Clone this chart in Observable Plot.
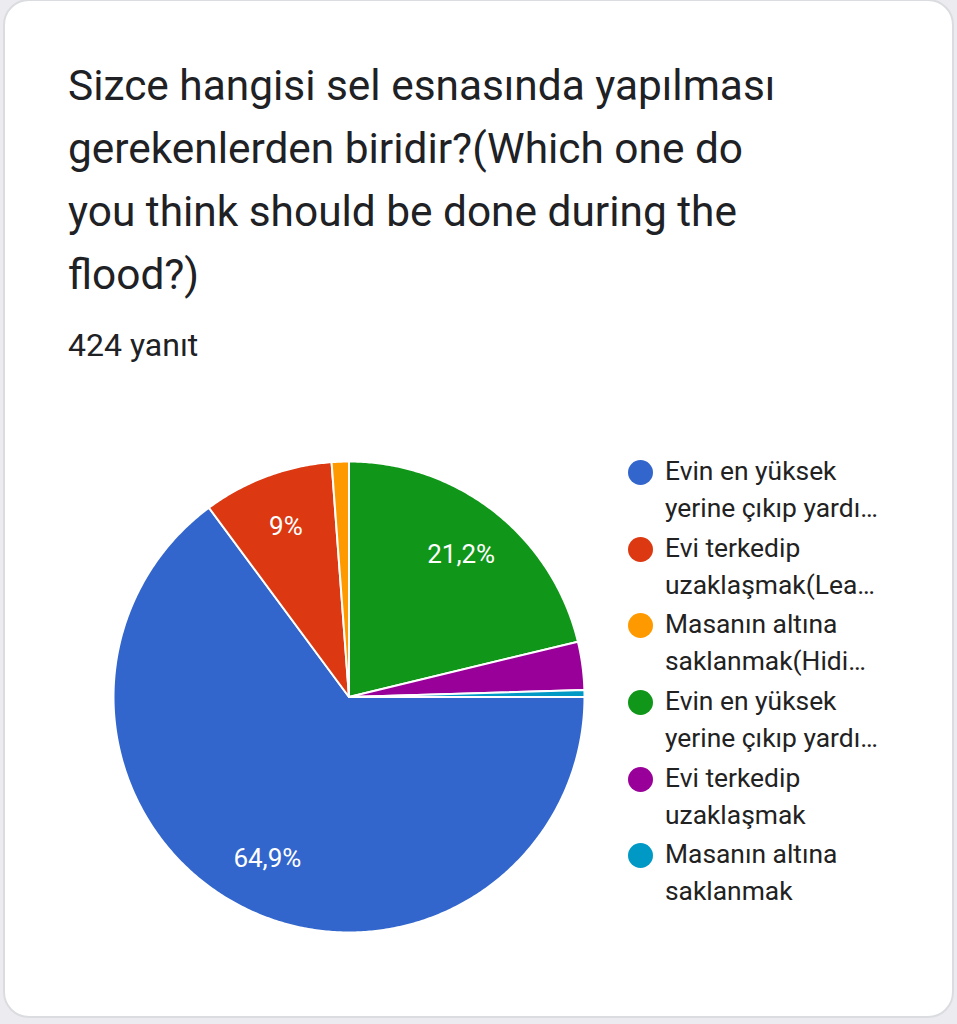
<!DOCTYPE html>
<html>
<head>
<meta charset="utf-8">
<script src="https://cdn.jsdelivr.net/npm/d3@7"></script>
<script src="https://cdn.jsdelivr.net/npm/@observablehq/plot@0.6"></script>
<style>
  html, body { margin: 0; padding: 0; }
  body { width: 957px; height: 1024px; background: #ececf0; position: relative; overflow: hidden; font-family: Roboto, "Noto Sans", sans-serif; color: #202124; }
  #card { position: absolute; left: 3px; top: -1px; width: 951px; height: 1019px; box-sizing: border-box; background: #fff; border: 2px solid #dadce0; border-radius: 26px; }
  #title { position: absolute; left: 68px; top: 54px; width: 725px; font-size: 42.4px; line-height: 63px; margin: 0; font-weight: 400; }
  #count { position: absolute; left: 68px; top: 327px; font-size: 32px; line-height: 37px; }
  #chart { position: absolute; left: 0; top: 440px; }
  #legend { position: absolute; left: 628px; top: 453px; }
  .item { position: relative; height: 76.7px; padding-left: 37px; font-size: 26.4px; line-height: 37px; white-space: pre; color: #222; }
  .sw { position: absolute; left: 0; top: 7px; width: 25px; height: 25px; border-radius: 50%; }
</style>
</head>
<body>
<div id="card"></div>
<h1 id="title">Sizce hangisi sel esnasında yapılması gerekenlerden biridir?(Which one do you think should be done during the flood?)</h1>
<div id="count">424 yanıt</div>
<div id="chart"></div>
<div id="legend"></div>
<script>
// ---- data ----
const categories = [
  "Evin en yüksek\nyerine çıkıp yardı…",
  "Evi terkedip\nuzaklaşmak(Lea…",
  "Masanın altına\nsaklanmak(Hidi…",
  "Evin en yüksek\nyerine çıkıp yardı… ",
  "Evi terkedip\nuzaklaşmak",
  "Masanın altına\nsaklanmak"
];
const counts = [275, 38, 5, 90, 14, 2];
const colors = ["#3366cc", "#dc3912", "#ff9900", "#109618", "#990099", "#0099c6"];
const totalResponses = 424;

// ---- derived ----
const rows = categories.map((c, i) => ({key: c, count: counts[i]}));
// rotate so that the 4th answer starts at 12 o'clock (as in the form summary)
const offset = -2 * Math.PI * d3.sum(counts.slice(0, 3)) / totalResponses;
const arcs = d3.pie().sort(null).value(d => d.count)
  .startAngle(offset).endAngle(offset + 2 * Math.PI)(rows);

const pts = [];
for (const a of arcs) {
  pts.push({key: a.data.key, x: 0, y: 0});
  const n = Math.max(2, Math.ceil((a.endAngle - a.startAngle) / (Math.PI / 360)));
  for (let j = 0; j <= n; j++) {
    const t = a.startAngle + (a.endAngle - a.startAngle) * j / n;
    pts.push({key: a.data.key, x: Math.sin(t), y: Math.cos(t)});
  }
}
const fmt = v => d3.format(".1f")(v).replace(".", ",").replace(/,0$/, "") + "%";
const labelData = arcs
  .map(a => ({a, pct: a.data.count / totalResponses * 100}))
  .filter(d => d.pct >= 5)
  .map(d => {
    const m = (d.a.startAngle + d.a.endAngle) / 2;
    return {x: 0.77 * Math.sin(m), y: 0.77 * Math.cos(m), text: fmt(d.pct)};
  });

const plot = Plot.plot({
  width: 620,
  height: 520,
  marginLeft: 113,
  marginRight: 36,
  marginTop: 21,
  marginBottom: 28,
  x: {domain: [-1, 1], axis: null},
  y: {domain: [-1, 1], axis: null},
  color: {domain: categories, range: colors},
  style: {fontFamily: "Roboto, sans-serif", background: "transparent"},
  marks: [
    Plot.line(pts, {x: "x", y: "y", z: "key", fill: "key", stroke: "white", strokeWidth: 2, strokeLinejoin: "round", curve: "linear-closed"}),
    Plot.text(labelData, {x: "x", y: "y", text: "text", fill: "white", fontSize: 26})
  ]
});
document.getElementById("chart").appendChild(plot);

// legend
const lg = document.getElementById("legend");
categories.forEach((c, i) => {
  const it = document.createElement("div");
  it.className = "item";
  it.textContent = c.trim();
  const sw = document.createElement("span");
  sw.className = "sw";
  sw.style.background = colors[i];
  it.appendChild(sw);
  lg.appendChild(it);
});
</script>
</body>
</html>
